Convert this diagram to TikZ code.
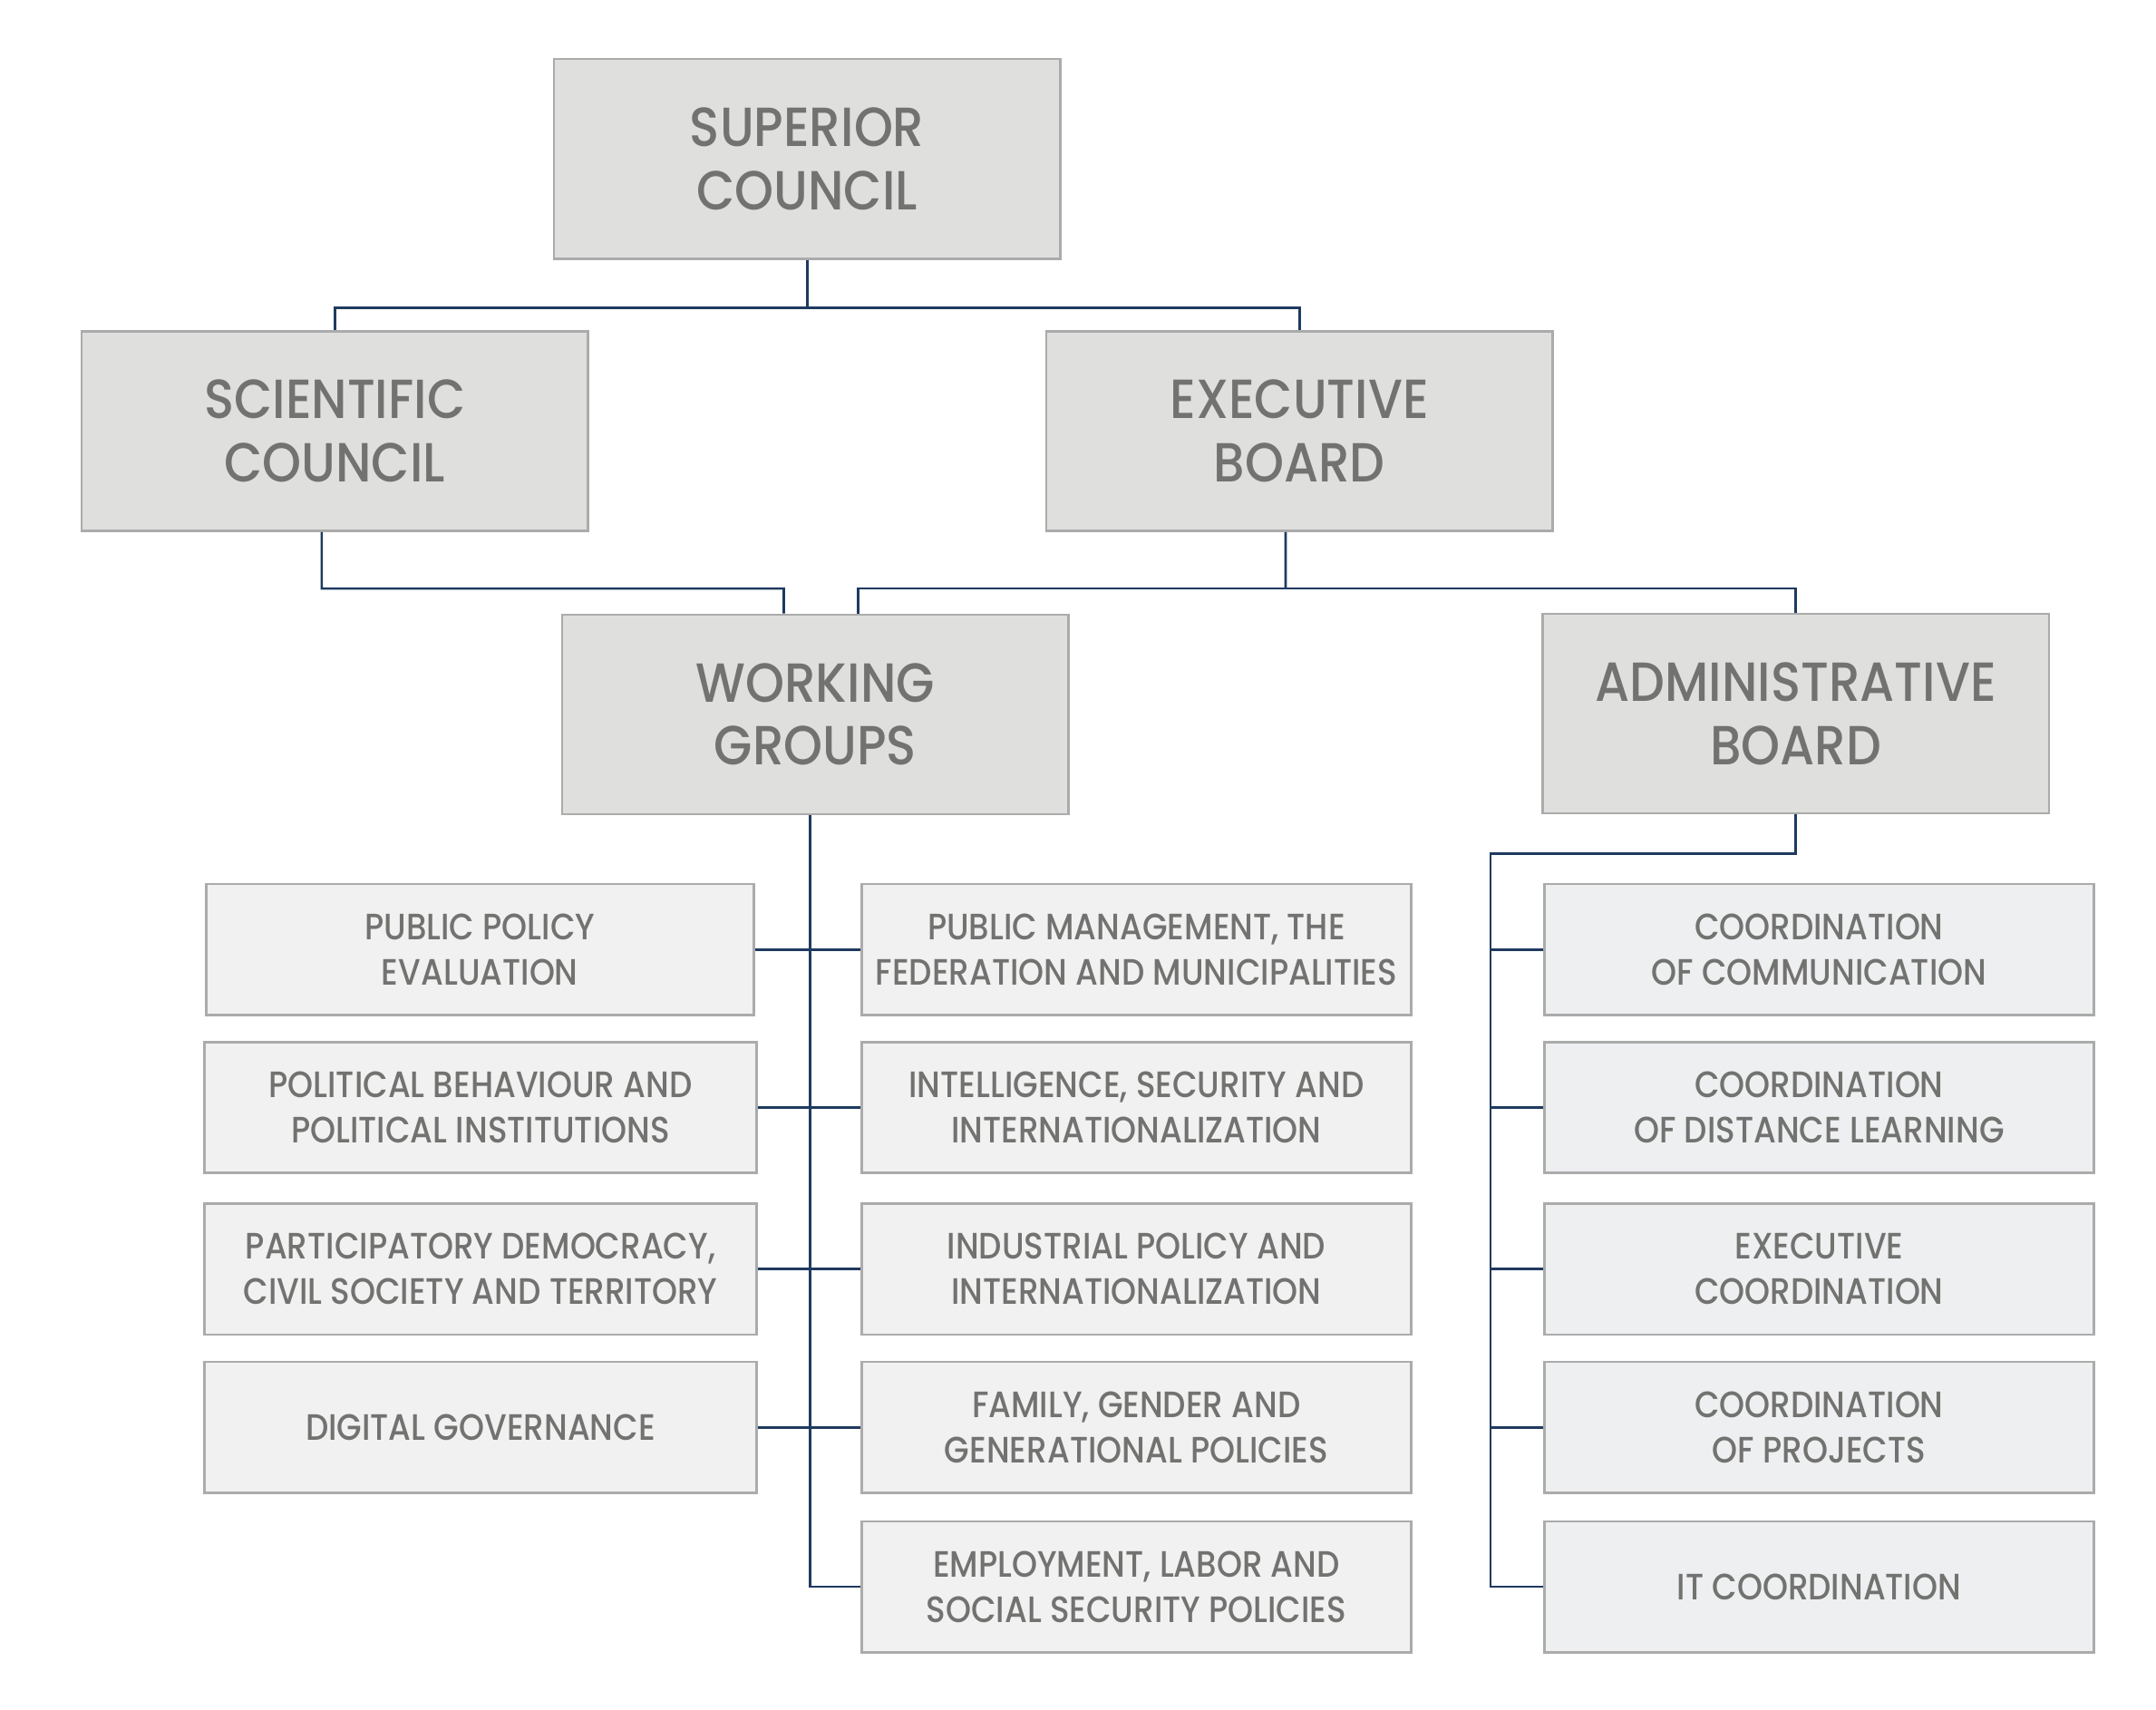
\documentclass[tikz,border=0pt]{standalone}
\usepackage{fontspec}
\setmainfont{Poppins}
\IfFontExistsTF{Poppins Medium}{%
  \newfontfamily\headfont[FakeStretch=0.9]{Poppins Medium}
  \newfontfamily\cellfont[FakeStretch=0.88]{Poppins Medium}
}{%
  \newfontfamily\headfont[FakeStretch=0.94,FakeBold=0.5]{Poppins}
  \newfontfamily\cellfont[FakeStretch=0.92,FakeBold=0.35]{Poppins}
}
\usetikzlibrary{positioning}
\definecolor{boxgrey}{HTML}{DFDFDE}
\definecolor{cellgrey}{HTML}{F1F1F1}
\definecolor{cellblue}{HTML}{EEEFF1}
\definecolor{edgegrey}{HTML}{ABABAB}
\definecolor{textgrey}{HTML}{727270}
\definecolor{linknavy}{HTML}{1F3A5F}
\tikzstyle{bigbox}=[draw=edgegrey,fill=boxgrey,line width=0.5pt,minimum width=3.68cm,minimum height=1.45cm,align=center,text=textgrey,font=\headfont\fontsize{11.4}{13.1}\selectfont]
\tikzstyle{cellbox}=[draw=edgegrey,fill=cellgrey,line width=0.5pt,inner xsep=0.5pt,minimum width=3.99cm,minimum height=0.95cm,align=center,text=textgrey,font=\cellfont\fontsize{7.6}{9.4}\selectfont]
\tikzstyle{link}=[draw=linknavy,line width=0.5pt]

\begin{document}
\begin{tikzpicture}[x=0.01cm,y=-0.01cm]
  \useasboundingbox[fill=white] (0,0) rectangle (1568,1243);

  % top levels
  \node[bigbox] (sup) at (587,115.5) {SUPERIOR\\COUNCIL};
  \node[bigbox] (sci) at (243.5,313.5) {SCIENTIFIC\\COUNCIL};
  \node[bigbox] (exe) at (945,313.5) {EXECUTIVE\\BOARD};
  \node[bigbox] (wg) at (593,519.5) {WORKING\\GROUPS};
  \node[bigbox] (adm) at (1306,519) {ADMINISTRATIVE\\BOARD};

  % working groups
  \node[cellbox,minimum width=3.98cm] (ppe) at (349,690.5) {PUBLIC POLICY\\EVALUATION};
  \node[cellbox,minimum width=4.01cm] (pbi) at (349.5,805.5) {POLITICAL BEHAVIOUR AND\\POLITICAL INSTITUTIONS};
  \node[cellbox,minimum width=4.01cm] (pdc) at (349.5,923) {PARTICIPATORY DEMOCRACY,\\CIVIL SOCIETY AND TERRITORY};
  \node[cellbox,minimum width=4.01cm] (dgv) at (349.5,1038) {DIGITAL GOVERNANCE};
  \node[cellbox] (pmf) at (826.5,690.5) {PUBLIC MANAGEMENT, THE\\FEDERATION AND MUNICIPALITIES};
  \node[cellbox] (isi) at (826.5,805.5) {INTELLIGENCE, SECURITY AND\\INTERNATIONALIZATION};
  \node[cellbox] (ipi) at (826.5,923) {INDUSTRIAL POLICY AND\\INTERNATIONALIZATION};
  \node[cellbox] (fgg) at (826.5,1038) {FAMILY, GENDER AND\\GENERATIONAL POLICIES};
  \node[cellbox] (els) at (826.5,1154) {EMPLOYMENT, LABOR AND\\SOCIAL SECURITY POLICIES};

  % administrative units
  \node[cellbox,fill=cellblue] (ccm) at (1323,690.5) {COORDINATION\\OF COMMUNICATION};
  \node[cellbox,fill=cellblue] (cdl) at (1323,805.5) {COORDINATION\\OF DISTANCE LEARNING};
  \node[cellbox,fill=cellblue] (exc) at (1323,923) {EXECUTIVE\\COORDINATION};
  \node[cellbox,fill=cellblue] (cpr) at (1323,1038) {COORDINATION\\OF PROJECTS};
  \node[cellbox,fill=cellblue] (itc) at (1323,1154) {IT COORDINATION};

  \coordinate (tj) at (587,224);
  \coordinate (sj) at (570,428);
  \coordinate (ej) at (935,428);
  \coordinate (aj) at (1084,621);

  \draw[link] (sup.south) -- (tj);
  \draw[link] (sci.north) |- (tj) -| (exe.north);
  \draw[link] ([xshift=-0.095cm]sci.south) |- (sj) -- ([xshift=-0.23cm]wg.north);
  \draw[link] ([xshift=-0.1cm]exe.south) -- (ej);
  \draw[link] ([xshift=0.31cm]wg.north) |- (ej) -| (adm.north);

  % spines
  \draw[link] ([xshift=-0.04cm]wg.south) |- (els.west);
  \draw[link] (ppe.east) -- (pmf.west);
  \draw[link] (pbi.east) -- (isi.west);
  \draw[link] (pdc.east) -- (ipi.west);
  \draw[link] (dgv.east) -- (fgg.west);
  \draw[link] (adm.south) |- (aj) |- (itc.west);
  \foreach \n in {ccm,cdl,exc,cpr}
    \draw[link] (\n.west) -- (\n.west -| aj);
\end{tikzpicture}
\end{document}
